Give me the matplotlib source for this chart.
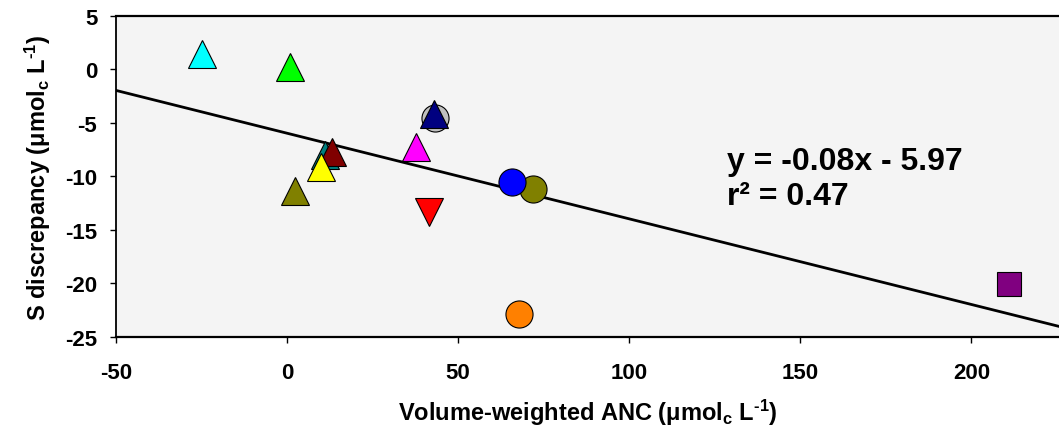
import matplotlib
matplotlib.use('Agg')
import matplotlib.pyplot as plt

plt.rcParams['font.family'] = ['Liberation Sans', 'DejaVu Sans']
plt.rcParams['font.weight'] = 'bold'
plt.rcParams['axes.unicode_minus'] = False
plt.rcParams['mathtext.fontset'] = 'custom'
plt.rcParams['mathtext.bf'] = 'Liberation Sans:bold'
plt.rcParams['mathtext.rm'] = 'Liberation Sans:bold'
plt.rcParams['mathtext.default'] = 'bf'

# data (drawing order matters for overlaps)
anc = [-25.0, 1.0, 43.2, 42.9, 37.6, 11.0, 13.0, 9.8, 2.4, 41.6, 71.8, 65.6, 67.8, 210.9]
s_disc = [1.4, 0.2, -4.56, -4.2, -7.25, -8.0, -7.7, -9.1, -11.4, -13.35, -11.2, -10.57, -22.85, -20.07]
markers = ['^', '^', 'o', '^', '^', '^', '^', '^', '^', 'v', 'o', 'o', 'o', 's']
colors = ['#00FFFF', '#00FF00', '#C0C0C0', '#000080', '#FF00FF', '#008080', '#800000',
          '#FFFF00', '#808000', '#FF0000', '#808000', '#0000FF', '#FF8000', '#800080']

slope = -0.08
intercept = -5.97
r2 = 0.47

x_lim = (-50, 225.6)
y_lim = (-25, 5)

fig = plt.figure(figsize=(10.59, 4.31), dpi=100)
ax = fig.add_axes([0.1095, 0.216, 0.8905, 0.745])
ax.set_facecolor('#F4F4F4')

# regression line
ax.plot(x_lim, [slope * x + intercept for x in x_lim], color='black', lw=2.0, zorder=2)

for x, y, m, c in zip(anc, s_disc, markers, colors):
    ms = 17 if m == 's' else 19.5
    ax.plot(x, y, marker=m, color=c, markersize=ms, markeredgecolor='black',
            markeredgewidth=0.8, linestyle='none', zorder=3, clip_on=False)

ax.text(128.5, -8.6, 'y = %.2fx - %.2f' % (slope, -intercept), fontsize=23,
        fontweight='bold', va='center', ha='left')
ax.text(128.5, -11.8, 'r² = %.2f' % r2, fontsize=23, fontweight='bold',
        va='center', ha='left')

ax.set_xlim(*x_lim)
ax.set_ylim(*y_lim)
ax.set_xticks([-50, 0, 50, 100, 150, 200])
ax.set_yticks([5, 0, -5, -10, -15, -20, -25])
ax.tick_params(axis='both', direction='out', length=4, width=1, labelsize=16)
ax.tick_params(axis='x', pad=14)
ax.tick_params(axis='y', pad=9.5)
for lbl in ax.get_xticklabels() + ax.get_yticklabels():
    lbl.set_fontweight('bold')

ax.spines['right'].set_visible(False)
ax.spines['top'].set_linewidth(1.6)
ax.spines['bottom'].set_linewidth(1.6)
ax.spines['left'].set_linewidth(1.3)

ax.set_xlabel(r'Volume-weighted ANC ($\mathbf{\mu}$mol$_\mathbf{c}$ L$^{\text{-1}}$)',
              fontsize=17, fontweight='bold', labelpad=10)
ax.set_ylabel(r'S discrepancy ($\mathbf{\mu}$mol$_\mathbf{c}$ L$^{\text{-1}}$)',
              fontsize=17, fontweight='bold', labelpad=9)

fig.savefig('out.png', dpi=100)
